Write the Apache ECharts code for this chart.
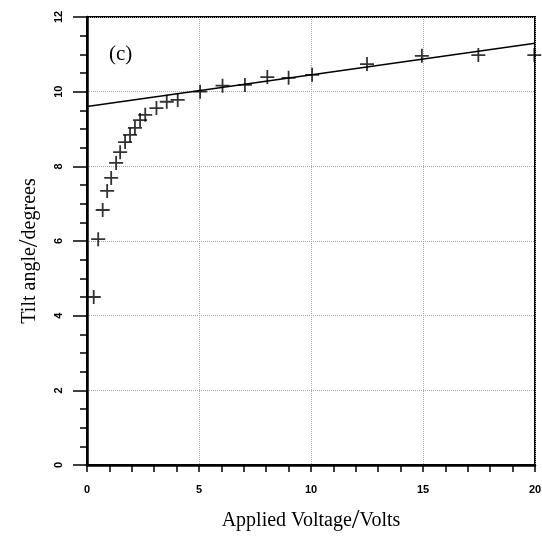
<!DOCTYPE html>
<html>
<head>
<meta charset="utf-8">
<script src="https://cdn.jsdelivr.net/npm/echarts@6/dist/echarts.min.js"></script>
<style>html,body{margin:0;padding:0;background:#fff}#c{width:542px;height:536px}</style>
</head>
<body>
<div id="c"></div>
<script>
// Measured data: applied voltage (V) and tilt angle (degrees)
const voltage = [0.3, 0.5, 0.7, 0.9, 1.08, 1.3, 1.48, 1.7, 1.92, 2.14, 2.37, 2.6, 3.1, 3.56, 4.05, 5.05, 6.05, 7.05, 8.05, 9.0, 10.05, 12.5, 14.95, 17.47, 19.97];
const tilt    = [4.5, 6.05, 6.83, 7.34, 7.69, 8.09, 8.38, 8.65, 8.84, 9.03, 9.24, 9.38, 9.56, 9.73, 9.78, 10.0, 10.16, 10.18, 10.39, 10.37, 10.45, 10.74, 10.96, 10.98, 10.98];
// Linear fit line end points
const fitX = [0, 20];
const fitY = [9.6, 11.3];
// Axis ranges
const xTicks = [0, 5, 10, 15, 20];
const yTicks = [0, 2, 4, 6, 8, 10, 12];
const panelLabel = '(c)';

const chart = echarts.init(document.getElementById('c'), null, {renderer: 'canvas'});
const tickFont = {fontFamily: 'Liberation Sans', fontSize: 11, fontWeight: 'bold', color: '#000'};
const serif = 'Liberation Serif';

chart.setOption({
  animation: false,
  backgroundColor: '#fff',
  grid: {left: 87, top: 17, right: 7, bottom: 71, show: true, borderColor: '#000', borderWidth: 2, backgroundColor: 'transparent', containLabel: false, outerBoundsMode: 'none'},
  graphic: [{type: 'text', left: 109, top: 44, style: {text: panelLabel, font: '21px "Liberation Serif"', fill: '#000'}}],
  xAxis: {
    type: 'value', min: xTicks[0], max: xTicks[xTicks.length - 1], interval: 5,
    axisLine: {lineStyle: {color: '#000', width: 2.5}},
    axisTick: {show: true, length: 7, lineStyle: {color: '#000', width: 1.5}},
    minorTick: {show: true, splitNumber: 5, length: 7, lineStyle: {color: '#000', width: 1.5}},
    axisLabel: Object.assign({margin: 19}, tickFont),
    splitLine: {show: true, lineStyle: {color: '#aaa', type: 'dotted', width: 1}},
    name: '{t|Applied Voltage}{s|/}{t|Volts}', nameLocation: 'middle', nameGap: 42,
    nameTextStyle: {rich: {t: {fontFamily: serif, fontSize: 20, color: '#000'}, s: {fontFamily: serif, fontSize: 28, color: '#000'}}}
  },
  yAxis: {
    type: 'value', min: yTicks[0], max: yTicks[yTicks.length - 1], interval: 2,
    axisLine: {lineStyle: {color: '#000', width: 2.5}},
    axisTick: {show: true, length: 14, lineStyle: {color: '#000', width: 1.5}},
    minorTick: {show: true, splitNumber: 4, length: 7, lineStyle: {color: '#000', width: 1.5}},
    axisLabel: Object.assign({margin: 23, rotate: 90}, tickFont),
    splitLine: {show: true, lineStyle: {color: '#aaa', type: 'dotted', width: 1}},
    name: '{t|Tilt angle}{s|/}{t|degrees}', nameLocation: 'middle', nameGap: 43,
    nameTextStyle: {padding: [0, 20, 0, 0], rich: {t: {fontFamily: serif, fontSize: 20, color: '#000'}, s: {fontFamily: serif, fontSize: 28, color: '#000'}}}
  },
  series: [
    {
      type: 'line', data: fitX.map((x, i) => [x, fitY[i]]), showSymbol: false,
      lineStyle: {color: '#000', width: 1.5}, silent: true
    },
    {
      type: 'scatter', data: voltage.map((x, i) => [x, tilt[i]]),
      symbol: 'path://M7,0 L7,14 M0,7 L14,7', symbolSize: 14,
      itemStyle: {color: 'transparent', borderColor: '#000', borderWidth: 1.8}
    }
  ]
});
</script>
</body>
</html>
